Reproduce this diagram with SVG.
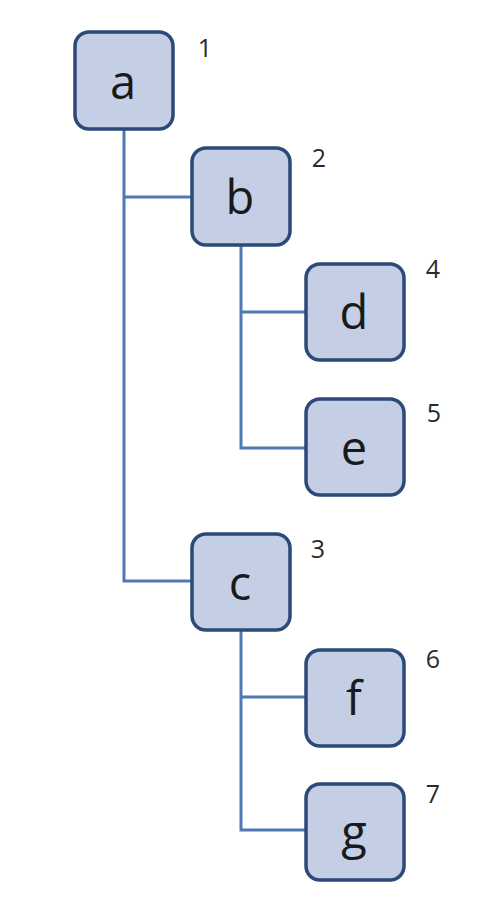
<svg xmlns="http://www.w3.org/2000/svg" width="492" height="906" viewBox="0 0 492 906">
<style>
.box{fill:#c4cfe6;stroke:#2b4a78;stroke-width:3.5}
.lbl{font-family:"Open Sans","Liberation Sans",sans-serif;font-size:47px;fill:#1a1a1a;text-anchor:middle}
.num{font-family:"Open Sans","Liberation Sans",sans-serif;font-size:25px;fill:#2a2a2a;text-anchor:middle}
.con{fill:none;stroke:#4f78b4;stroke-width:3}
</style>
<rect width="492" height="906" fill="#fff"/>
<g id="connectors">
<path class="con" d="M124 130 V581 H191 M124 197 H191"/>
<path class="con" d="M241 246 V448 H306 M241 312 H306"/>
<path class="con" d="M241 631 V830 H306 M241 697 H306"/>
</g>
<g id="node-a"><rect class="box" x="75" y="32" width="98" height="97" rx="14"/><text class="lbl" x="123" y="99">a</text><text class="num" x="205" y="57">1</text></g>
<g id="node-b"><rect class="box" x="192" y="148" width="98" height="97" rx="14"/><text class="lbl" x="240" y="214">b</text><text class="num" x="319" y="167">2</text></g>
<g id="node-d"><rect class="box" x="306" y="264" width="98" height="96" rx="14"/><text class="lbl" x="354" y="329">d</text><text class="num" x="433" y="278">4</text></g>
<g id="node-e"><rect class="box" x="306" y="399" width="98" height="96" rx="14"/><text class="lbl" x="354" y="465">e</text><text class="num" x="434" y="422">5</text></g>
<g id="node-c"><rect class="box" x="192" y="534" width="98" height="96" rx="14"/><text class="lbl" x="240" y="600">c</text><text class="num" x="318" y="558">3</text></g>
<g id="node-f"><rect class="box" x="306" y="650" width="98" height="96" rx="14"/><text class="lbl" x="354" y="715">f</text><text class="num" x="433" y="668">6</text></g>
<g id="node-g"><rect class="box" x="306" y="784" width="98" height="96" rx="14"/><text class="lbl" x="354" y="849">g</text><text class="num" x="433" y="803">7</text></g>
</svg>
